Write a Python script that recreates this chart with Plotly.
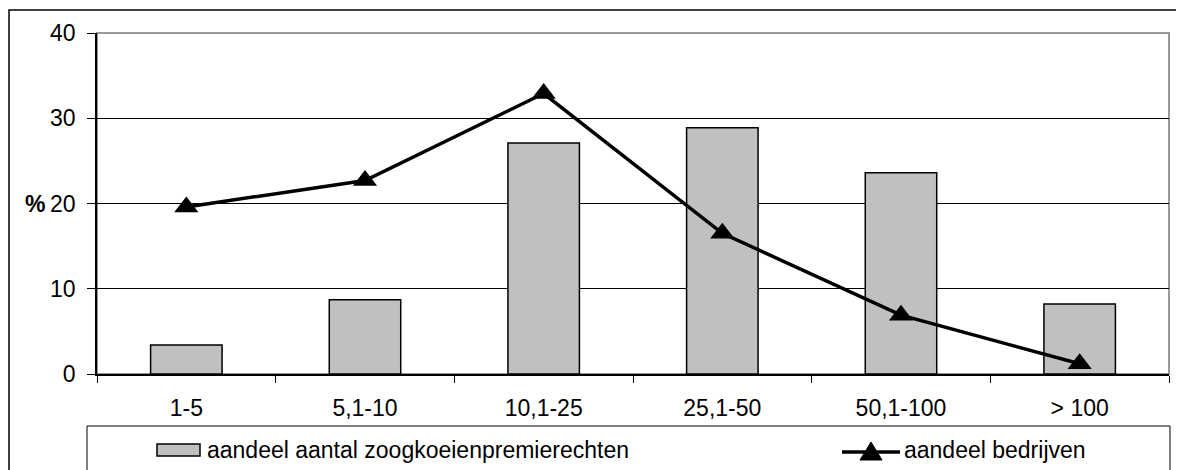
import plotly.graph_objects as go

categories = ["1-5", "5,1-10", "10,1-25", "25,1-50", "50,1-100", "> 100"]
premierechten = [3.4, 8.7, 27.1, 28.9, 23.6, 8.2]
bedrijven = [19.6, 22.7, 32.9, 16.5, 6.9, 1.2]
y_ticks = [0, 10, 20, 30, 40]
legend_bar = "aandeel aantal zoogkoeienpremierechten"
legend_line = "aandeel bedrijven"

FONT = "Liberation Sans, Arial, sans-serif"
OFF = 8  # page body margin
W, H = 1184 - OFF, 470 - OFF
L, R, T, B = 97 - OFF, 15, 33 - OFF, 96
pw, ph = W - L - R, H - T - B

def px(x):
    return (x - OFF - L) / pw

def py(y):
    return (H - B - (y - OFF)) / ph

fig = go.Figure()
fig.add_trace(go.Bar(
    x=categories, y=premierechten, name=legend_bar,
    marker=dict(color="#c0c0c0", line=dict(color="black", width=1.5)),
    showlegend=False,
))
fig.add_trace(go.Scatter(
    x=categories, y=bedrijven, name=legend_line, mode="lines+markers",
    line=dict(color="black", width=3.5),
    marker=dict(symbol="triangle-up", size=21, color="black"),
    showlegend=False,
))

shapes = [
    dict(type="rect", xref="paper", yref="paper", x0=px(9), x1=px(1200), y0=py(490), y1=py(10),
         line=dict(color="black", width=1.5), layer="below"),
    dict(type="rect", xref="paper", yref="paper", x0=0, x1=1, y0=0, y1=1,
         line=dict(color="#999999", width=2), layer="below"),
    dict(type="rect", xref="paper", yref="paper", x0=px(87), x1=px(1170), y0=py(490), y1=py(426),
         line=dict(color="black", width=1), fillcolor="white"),
    dict(type="rect", xref="paper", yref="paper", x0=px(157), x1=px(200), y0=py(456), y1=py(444),
         line=dict(color="black", width=1.5), fillcolor="#c0c0c0"),
    dict(type="line", xref="paper", yref="paper", x0=px(842), x1=px(900), y0=py(452), y1=py(452),
         line=dict(color="black", width=3.5)),
    dict(type="path", xref="paper", yref="paper",
         path=f"M {px(860)},{py(460)} L {px(882)},{py(460)} L {px(871)},{py(442)} Z",
         fillcolor="black", line=dict(color="black", width=1)),
]

annotations = [
    dict(text="<b>%</b>", xref="paper", yref="paper", x=px(47), y=py(204), xanchor="right", yanchor="middle",
         showarrow=False, font=dict(family=FONT, size=23, color="black")),
    dict(text=legend_bar, xref="paper", yref="paper", x=px(205), y=py(450), xanchor="left", yanchor="middle",
         showarrow=False, font=dict(family=FONT, size=23, color="black")),
    dict(text=legend_line, xref="paper", yref="paper", x=px(902), y=py(450), xanchor="left", yanchor="middle",
         showarrow=False, font=dict(family=FONT, size=23, color="black")),
]

fig.update_layout(
    width=W, height=H,
    margin=dict(l=L, r=R, t=T, b=B, pad=0),
    paper_bgcolor="white", plot_bgcolor="white",
    font=dict(family=FONT, size=23, color="black"),
    bargap=0.6,
    shapes=shapes, annotations=annotations,
    showlegend=False,
)
fig.update_xaxes(
    type="category", showline=True, linecolor="black", linewidth=1.5,
    ticks="outside", tickson="boundaries", ticklen=7, tickcolor="black", tickwidth=1,
    showgrid=False, ticklabelstandoff=13,
)
fig.update_yaxes(
    range=[0, 40], tickvals=y_ticks, showline=True, linecolor="black", linewidth=1.5,
    ticks="outside", ticklen=8, tickcolor="black", tickwidth=1,
    showgrid=True, gridcolor="black", gridwidth=1, zeroline=False, ticklabelstandoff=7,
)
fig.write_html("out.html")
